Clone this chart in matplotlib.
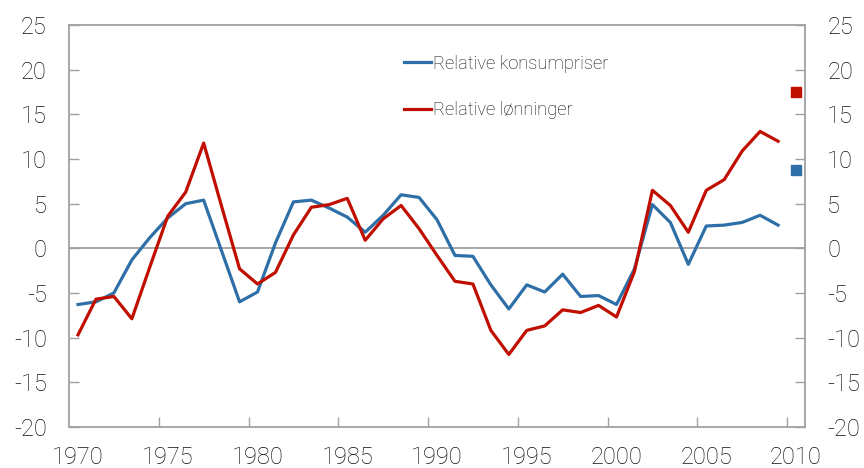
import numpy as np
import matplotlib.pyplot as plt

years = list(range(1970, 2010))

konsumpriser = [-6.3, -6.0, -5.0, -1.3, 1.2, 3.4, 5.0, 5.4, -0.3, -6.0,
                -4.9, 0.6, 5.2, 5.4, 4.5, 3.5, 1.8, 3.7, 6.0, 5.7,
                3.2, -0.8, -0.9, -4.1, -6.8, -4.1, -4.9, -2.9, -5.4, -5.3,
                -6.3, -2.3, 4.9, 2.9, -1.8, 2.5, 2.6, 2.9, 3.7, 2.6]

lonninger = [-9.7, -5.7, -5.4, -7.9, -2.1, 3.6, 6.3, 11.8, 4.7, -2.3,
             -4.0, -2.7, 1.5, 4.6, 4.9, 5.6, 0.9, 3.3, 4.8, 2.2,
             -0.8, -3.7, -4.0, -9.2, -11.9, -9.2, -8.7, -6.9, -7.2, -6.4,
             -7.7, -2.6, 6.5, 4.8, 1.8, 6.5, 7.7, 10.9, 13.1, 12.0]

# enkeltpunkter 2010
punkt_aar = 2010
punkt_konsum = 8.8
punkt_lonn = 17.5

x_labels = [1970, 1975, 1980, 1985, 1990, 1995, 2000, 2005, 2010]
y_ticks = [-20, -15, -10, -5, 0, 5, 10, 15, 20, 25]

blue = "#2f6fa7"
red = "#c00f00"
grey = "#a0a0a0"

plt.rcParams['font.family'] = ['Roboto', 'DejaVu Sans']
plt.rcParams['font.weight'] = 'light'
plt.rcParams['text.color'] = '#111111'
plt.rcParams['xtick.labelcolor'] = '#111111'
plt.rcParams['ytick.labelcolor'] = '#111111'

fig = plt.figure(figsize=(8.64, 4.68), dpi=100)
ax = fig.add_axes([0.0799, 0.0882, 0.8518, 0.8578])

ax.axhline(0, color=grey, lw=1.3, zorder=1)
ax.plot(years, konsumpriser, color=blue, lw=2.3, label="Relative konsumpriser", zorder=3)
ax.plot(years, lonninger, color=red, lw=2.3, label="Relative lønninger", zorder=3)
ax.plot([punkt_aar], [punkt_konsum], marker="s", ms=7.5, color=blue, ls="none")
ax.plot([punkt_aar], [punkt_lonn], marker="s", ms=7.5, color=red, ls="none")

ax.set_xlim(1969.5, 2010.5)
ax.set_ylim(-20, 25)

# kategoriakse: merker mellom årene, etiketter på årene
ax.set_xticks([y - 0.5 for y in x_labels[1:]])
ax.set_xticklabels([])
ax.set_xticks(x_labels, minor=True)
ax.set_xticklabels([str(v) for v in x_labels], minor=True)
ax.tick_params(axis="x", which="major", direction="in", length=7, width=1, color=grey)
ax.tick_params(axis="x", which="minor", length=0, pad=14, labelsize=17)

ax.set_yticks(y_ticks)
ax.set_yticklabels([str(v) for v in y_ticks])
ax.tick_params(axis="y", direction="in", length=7, width=1, color=grey,
               labelsize=17, pad=16, left=True, right=True,
               labelleft=True, labelright=True)

for s in ax.spines.values():
    s.set_color(grey)
    s.set_linewidth(1.3)

fig.legend(loc="center left", bbox_to_anchor=(0.468, 0.814), frameon=False,
           fontsize=13.2, handlelength=1.45, handletextpad=0.12,
           labelspacing=1.55, borderpad=0, borderaxespad=0)

fig.savefig("out.png", dpi=100)
